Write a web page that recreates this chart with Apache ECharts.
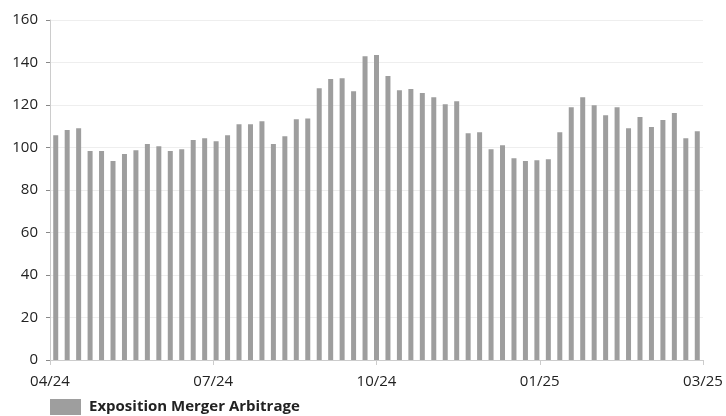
<!DOCTYPE html>
<html>
<head>
<meta charset="utf-8">
<script src="https://cdn.jsdelivr.net/npm/echarts@6/dist/echarts.min.js"></script>
<style>html,body{margin:0;padding:0;background:#fff}#c{width:726px;height:416px}</style>
</head>
<body>
<div id="c"></div>
<script>
const seriesName = 'Exposition Merger Arbitrage';
const values = [105.8,108.2,109.1,98.3,98.3,93.6,96.9,98.7,101.6,100.6,98.3,99.2,103.5,104.4,103.0,105.8,111.0,111.0,112.4,101.6,105.3,113.3,113.7,127.9,132.2,132.6,126.5,143.0,143.5,133.6,127.0,127.5,125.6,123.7,120.4,121.8,106.7,107.2,99.2,101.1,95.0,93.6,94.0,94.5,107.2,119.0,123.7,119.9,115.2,119.0,109.1,114.3,109.6,112.9,116.2,104.4,107.7];
const xTickLabels = ['04/24','07/24','10/24','01/25','03/25'];
const yTicks = [0,20,40,60,80,100,120,140,160];

const n = values.length;
const step = n / (xTickLabels.length - 1);
const data = values.map((v, i) => [i + 0.5, v]);

const chart = echarts.init(document.getElementById('c'), null, {renderer: 'canvas'});
chart.setOption({
  animation: false,
  textStyle: {fontFamily: 'Open Sans'},
  grid: {left: 50, right: 23, top: 20, bottom: 56, containLabel: false},
  legend: {
    left: 50, top: 399, padding: 0,
    itemWidth: 31, itemHeight: 16, itemGap: 10,
    icon: 'rect',
    textStyle: {fontFamily: 'Open Sans', fontSize: 15, fontWeight: 'bold', color: '#222', padding: [0,0,0,3]},
    data: [seriesName]
  },
  xAxis: {
    type: 'value', min: 0, max: n, interval: step,
    axisLine: {show: true, lineStyle: {color: '#ccc', width: 1}},
    axisTick: {show: true, length: 5, lineStyle: {color: '#ccc'}},
    splitLine: {show: false},
    axisLabel: {
      fontSize: 15, color: '#222', margin: 14,
      showMinLabel: true, showMaxLabel: true,
      formatter: v => { const k = Math.round(v / step); return xTickLabels[k] || ''; }
    }
  },
  yAxis: {
    type: 'value', min: yTicks[0], max: yTicks[yTicks.length-1], interval: 20,
    axisLine: {show: true, lineStyle: {color: '#ccc', width: 1}},
    axisTick: {show: true, length: 4, lineStyle: {color: '#888'}},
    splitLine: {show: true, lineStyle: {color: '#eee'}},
    axisLabel: {fontSize: 15, color: '#222', margin: 12}
  },
  series: [{
    name: seriesName,
    type: 'bar',
    data: data,
    barWidth: 5,
    itemStyle: {color: '#9e9e9e'}
  }]
});
</script>
</body>
</html>
